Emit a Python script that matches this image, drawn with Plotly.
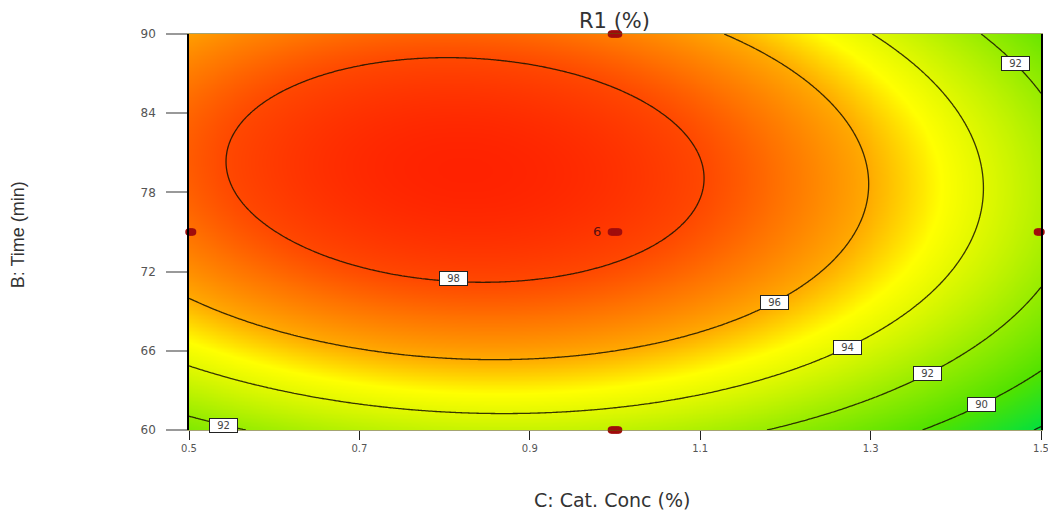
import numpy as np
import plotly.graph_objects as go

# ---- Response surface (R1 %): canonical quadratic form ----
r1_max = 99.08          # predicted maximum of R1 (%)
conc_opt = 0.824        # C: Cat. Conc (%) at optimum
time_opt = 79.7         # B: Time (min) at optimum
curv_conc = 13.8        # curvature along C
curv_time = 0.0150      # curvature along B
inter_ct = -0.068       # C x B interaction

conc_range = [0.5, 1.5]
time_range = [60, 90]
contour_levels = [88, 90, 92, 94, 96, 98]

# design points
design_conc = [0.5, 1.0, 1.0, 1.0, 1.5]
design_time = [75, 90, 75, 60, 75]
center_reps = "6"

x_ticks = [0.5, 0.7, 0.9, 1.1, 1.3, 1.5]
x_ticktext = ["0.5", "0.7", "0.9", "1.1", "1.3", "1.5"]
y_ticks = [60, 66, 72, 78, 84, 90]

# contour label placement (level, C value, branch)
label_levels = [98, 96, 94, 92, 90, 92, 92]
label_conc = [0.81, 1.187, 1.273, 1.367, 1.43, 0.541, 1.47]
label_branch = ["low", "low", "low", "low", "low", "low", "high"]


def r1(c, t):
    dc = c - conc_opt
    dt = t - time_opt
    return r1_max - curv_conc * dc ** 2 - curv_time * dt ** 2 + inter_ct * dc * dt


xs = np.linspace(conc_range[0], conc_range[1], 301)
ys = np.linspace(time_range[0], time_range[1], 301)
X, Y = np.meshgrid(xs, ys)
Z = r1(X, Y)

zmin, zmax = float(Z.min()), float(Z.max())


def nz(v):
    return (v - zmin) / (zmax - zmin)


cs_points = [
    (zmin, "#00e040"),
    (90.0, "#50e200"),
    (92.0, "#96ec00"),
    (94.0, "#e2f800"),
    (94.8, "#ffff00"),
    (96.0, "#ffaa00"),
    (97.2, "#ff7200"),
    (98.0, "#ff4800"),
    (zmax, "#ff2200"),
]
colorscale = [[max(0.0, min(1.0, nz(v))), c] for v, c in cs_points]

FONT = "DejaVu Sans, Verdana, sans-serif"

fig = go.Figure()
fig.add_trace(go.Contour(
    x=xs, y=ys, z=Z,
    colorscale=colorscale, zmin=zmin, zmax=zmax,
    showscale=False,
    contours=dict(start=contour_levels[0], end=contour_levels[-1], size=2,
                  coloring="heatmap", showlabels=False),
    line=dict(color="rgba(25,20,0,0.85)", width=1.3),
    hoverinfo="skip",
))

# design points drawn as small horizontal ellipses (overlapping dots)
for off in (-0.0042, -0.0021, 0.0, 0.0021, 0.0042):
    fig.add_trace(go.Scatter(
        x=[c + off for c in design_conc], y=design_time, mode="markers",
        marker=dict(size=7.5, color="#a00c0c", line=dict(width=0)),
        cliponaxis=False, showlegend=False, hoverinfo="skip",
    ))

annotations = []
# contour labels with boxes
for lev, c, br in zip(label_levels, label_conc, label_branch):
    dc = c - conc_opt
    a = -curv_time
    b = inter_ct * dc
    k = r1_max - curv_conc * dc ** 2 - lev
    disc = b * b - 4 * a * k
    if disc < 0:
        continue
    r_a = (-b + np.sqrt(disc)) / (2 * a)
    r_b = (-b - np.sqrt(disc)) / (2 * a)
    dt = min(r_a, r_b) if br == "low" else max(r_a, r_b)
    annotations.append(dict(
        x=c, y=time_opt + dt, xref="x", yref="y", text=str(lev), showarrow=False,
        font=dict(family=FONT, size=10, color="#444"),
        bgcolor="white", bordercolor="#222", borderwidth=1, borderpad=0,
        width=27, height=13, yshift=3 if lev == 98 else 0,
    ))

# center point replicate count
annotations.append(dict(
    x=design_conc[2], y=design_time[2], xref="x", yref="y", text=center_reps,
    showarrow=False, xanchor="right", xshift=-12, yshift=1,
    font=dict(family=FONT, size=13, color="#5a1010"),
))

# titles
annotations.append(dict(
    x=0.499, y=(430 - 21) / 396, xref="paper", yref="paper", text="R1 (%)",
    showarrow=False,
    font=dict(family=FONT, size=21, color="#333"),
    yanchor="middle",
))
annotations.append(dict(
    x=0.497, y=-0.177, xref="paper", yref="paper", text="C: Cat. Conc (%)",
    showarrow=False, yanchor="middle",
    font=dict(family=FONT, size=19, color="#333"),
))
annotations.append(dict(
    x=-0.2007, y=0.492, xref="paper", yref="paper", text="B: Time (min)",
    showarrow=False, textangle=-90, xanchor="center", yanchor="middle",
    font=dict(family="Liberation Sans Narrow, Arial Narrow, Liberation Sans, sans-serif",
              size=18, color="#333"),
))

# the page adds an 8px body margin; the figure is sized so the plot area
# lands at the reference pixel position
fig.update_layout(
    width=1044, height=505,
    margin=dict(l=181, r=11, t=26, b=83, autoexpand=False),
    paper_bgcolor="white", plot_bgcolor="white",
    showlegend=False,
    annotations=annotations,
    xaxis=dict(
        range=conc_range, tickvals=x_ticks, ticktext=x_ticktext,
        ticks="outside", ticklen=9, tickcolor="#222", tickwidth=1,
        tickfont=dict(family=FONT, size=10, color="#555"),
        ticklabeloverflow="allow",
        showgrid=False, zeroline=False, automargin=False,
        showline=True, mirror=True, linecolor="rgba(90,90,0,0.55)", linewidth=1,
    ),
    yaxis=dict(
        range=time_range, tickvals=y_ticks,
        ticks="outside", ticklen=21, tickcolor="#999", tickwidth=2,
        ticklabelstandoff=8,
        tickfont=dict(family=FONT, size=12, color="#555"),
        showgrid=False, zeroline=False, automargin=False,
        showline=True, mirror=True, linecolor="black", linewidth=1.5,
    ),
)

fig.write_html("out.html")
